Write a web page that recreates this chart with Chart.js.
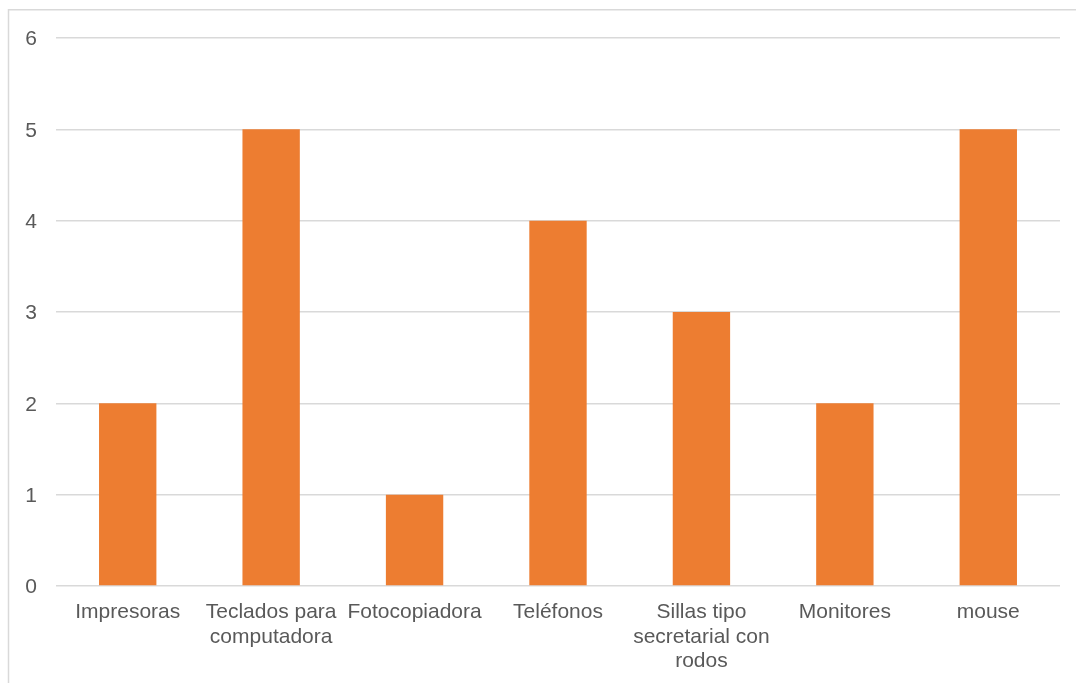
<!DOCTYPE html>
<html>
<head>
<meta charset="utf-8">
<script src="https://cdn.jsdelivr.net/npm/chart.js@4/dist/chart.umd.min.js"></script>
<style>
html,body{margin:0;padding:0;background:#fff;}
#wrap{width:1076px;height:683px;position:relative;}
</style>
</head>
<body>
<div id="wrap"><canvas id="c" width="1076" height="683"></canvas></div>
<script>
const categories = [
  "Impresoras",
  ["Teclados para", "computadora"],
  "Fotocopiadora",
  "Teléfonos",
  ["Sillas tipo", "secretarial con", "rodos"],
  "Monitores",
  "mouse"
];
const values = [2, 5, 1, 4, 3, 2, 5];
const yTicks = [0, 1, 2, 3, 4, 5, 6];

const frame = {
  id: 'frame',
  beforeDraw(chart) {
    const ctx = chart.ctx;
    ctx.save();
    ctx.strokeStyle = '#d9d9d9';
    ctx.lineWidth = 1.5;
    ctx.beginPath();
    ctx.moveTo(8.5, 700);
    ctx.lineTo(8.5, 9.8);
    ctx.lineTo(1100, 9.8);
    ctx.stroke();
    ctx.restore();
  }
};

new Chart(document.getElementById('c'), {
  type: 'bar',
  data: {
    labels: categories,
    datasets: [{
      data: values,
      backgroundColor: '#ED7D31',
      categoryPercentage: 1,
      barPercentage: 0.4
    }]
  },
  options: {
    responsive: false,
    animation: false,
    devicePixelRatio: 1,
    layout: { padding: { top: 38, right: 16, left: 0, bottom: 0 } },
    plugins: { legend: { display: false }, tooltip: { enabled: false } },
    scales: {
      x: {
        grid: { display: false, drawTicks: false },
        border: { display: false },
        ticks: {
          color: '#595959',
          font: { family: 'Liberation Sans, Arial', size: 21, lineHeight: 1.17 },
          padding: 14,
          maxRotation: 0,
          autoSkip: false
        },
        afterFit(s) { s.height = 97; }
      },
      y: {
        min: 0,
        max: 6,
        afterBuildTicks(s) { s.ticks = yTicks.map(v => ({ value: v })); },
        grid: { color: '#d9d9d9', lineWidth: 1.5, drawTicks: false },
        border: { display: false },
        ticks: {
          color: '#595959',
          font: { family: 'Liberation Sans, Arial', size: 21 },
          padding: 19,
          labelOffset: 1.5
        },
        afterFit(s) { s.width = 56; }
      }
    }
  },
  plugins: [frame]
});
</script>
</body>
</html>
